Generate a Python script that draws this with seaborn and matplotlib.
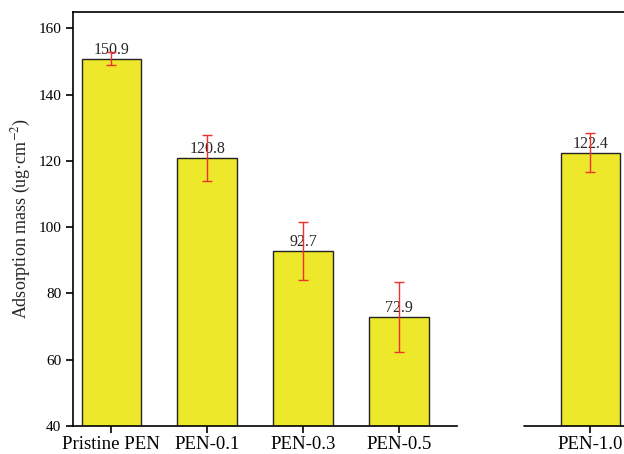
import matplotlib
matplotlib.use("Agg")
import matplotlib.pyplot as plt
import seaborn as sns
import numpy as np

# data
samples = ["Pristine PEN", "PEN-0.1", "PEN-0.3", "PEN-0.5", "PEN-1.0"]
mass = [150.9, 120.8, 92.7, 72.9, 122.4]
err = [2.1, 7.0, 8.7, 10.5, 5.9]
slots = ["Pristine PEN", "PEN-0.1", "PEN-0.3", "PEN-0.5", " ", "PEN-1.0"]

sns.set_style("ticks")
plt.rcParams["font.family"] = ["Liberation Serif", "DejaVu Serif"]
plt.rcParams["mathtext.fontset"] = "stix"

fig = plt.figure(figsize=(6.24, 4.54), dpi=100)
ax = fig.add_axes([0.117, 0.062, 0.883, 0.912])

sns.barplot(x=samples, y=mass, order=slots, color="#EEE82A", saturation=1,
            width=0.62, edgecolor="#222222", linewidth=1.0, ax=ax)

pos = [slots.index(s) for s in samples]
ax.errorbar(pos, mass, yerr=err, fmt="none", ecolor="#F0302A", elinewidth=1.0,
            capsize=3.5, capthick=1.0, zorder=5)
for p, m in zip(pos, mass):
    ax.text(p, m + 0.3, f"{m}", ha="center", va="bottom", fontsize=11.5)

ax.set_ylim(40, 165)
ax.set_xlim(-0.4, 5.35)
ax.set_yticks(range(40, 161, 20))
ax.set_xticks(pos)
ax.set_xticklabels(samples)
ax.tick_params(axis="both", direction="out", length=5, width=1.2, colors="black")
ax.tick_params(axis="y", labelsize=11)
ax.tick_params(axis="x", labelsize=13.5, pad=2)
ax.set_ylabel("Adsorption mass (ug·cm$^{-2}$)", fontsize=13)
ax.set_xlabel("")

for s in ["left", "top", "bottom"]:
    ax.spines[s].set_linewidth(1.2)
    ax.spines[s].set_color("black")
ax.spines["right"].set_visible(False)
# broken x axis between PEN-0.5 and PEN-1.0
ax.spines["bottom"].set_bounds(-0.4, 3.61)
ax.plot([4.31, 5.35], [40, 40], color="black", lw=1.2, clip_on=False, zorder=6)

fig.savefig("out.png", dpi=100)
